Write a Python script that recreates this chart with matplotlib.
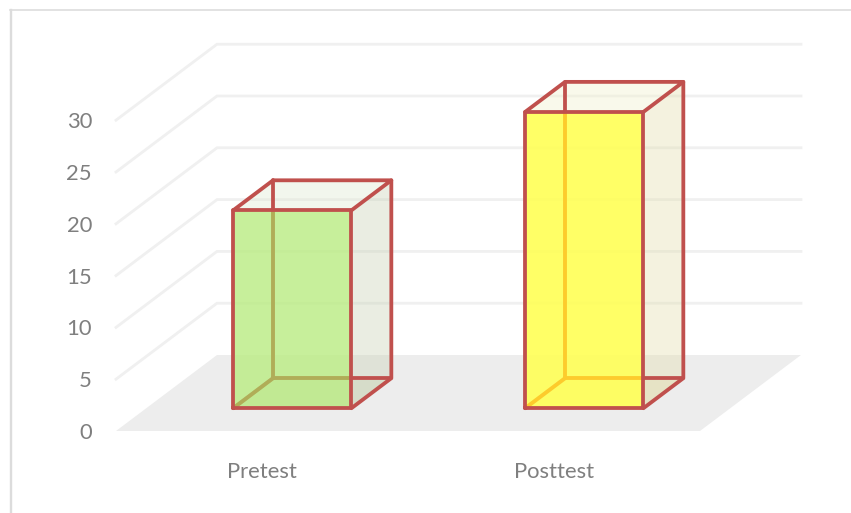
import matplotlib
matplotlib.use("Agg")
import matplotlib.pyplot as plt
from matplotlib.patches import Polygon

# Chart data
categories = ["Pretest", "Posttest"]
scores = [19.1, 28.6]
value_ticks = [0, 5, 10, 15, 20, 25, 30]

# Oblique projection: category index, value and depth (0 = front, 1 = back)
DEPTH_X = 101 / 292
DEPTH_V = 76 / 10.36


def proj(cat, value, depth):
    return cat + DEPTH_X * depth, value + DEPTH_V * depth


W, H = 851, 513
fig = plt.figure(figsize=(W / 100, H / 100), dpi=100)
ax = fig.add_axes([0, 0, 1, 1])
ax.set_xlim((0 - 262) / 292, (W - 262) / 292)
ax.set_ylim((431 - H) / 10.36, 431 / 10.36)
ax.axis("off")

plt.rcParams["font.family"] = ["Lato", "DejaVu Sans"]
TEXT = "#7f7f7f"
GRID = "#f0f0f0"
EDGE = "#c0504d"
PX = 72 / 100

# Outer chart frame
ax.plot([10.5 / W, 10.5 / W], [0, 1 - 10 / H], transform=ax.transAxes, color="#dcdcdc", lw=2.4 * PX)
ax.plot([10 / W, 1], [1 - 10 / H, 1 - 10 / H], transform=ax.transAxes, color="#dcdcdc", lw=1.6 * PX)

# Floor
x_lo, x_hi = -0.5, 1.5
ax.add_patch(Polygon([proj(x_lo, 0, 0), proj(x_lo, 0, 1), proj(x_hi, 0, 1), proj(x_hi, 0, 0)],
                     closed=True, fc="#ededed", ec="none", zorder=1))

# Gridlines on the side and back walls
for v in value_ticks[1:]:
    pts = [proj(x_lo, v, 0), proj(x_lo, v, 1), proj(x_hi, v, 1)]
    ax.plot(*zip(*pts), color=GRID, lw=2.8 * PX, zorder=1.5, solid_joinstyle="miter")

# Value and category labels
for v in value_ticks:
    x, y = proj(x_lo, v, 0)
    ax.annotate(str(v), (x, y), xytext=(-24 * PX, -2 * PX), textcoords="offset points",
                ha="right", va="center", fontsize=15.8, color=TEXT)
for i, name in enumerate(categories):
    ax.annotate(name, (i, 0), xytext=(0, -41 * PX), textcoords="offset points",
                ha="center", va="center", fontsize=15.8, color=TEXT)

# Bar styling: front face, side face, top face, bottom face, hidden-edge tint
styles = [
    dict(front=(186/255, 236/255, 130/255, .80), side=(201/255, 211/255, 181/255, .39),
         top=(224/255, 232/255, 211/255, .39), hidden="#b0ad58"),
    dict(front=(1, 1, 89/255, .92), side=(227/255, 222/255, 175/255, .39),
         top=(242/255, 242/255, 204/255, .39), hidden="#fdcb2c"),
]
half = 0.2025
d0, d1 = 0.30, 0.695

for i, (val, st) in enumerate(zip(scores, styles)):
    l, r = i - half, i + half
    fbl, fbr, ftr, ftl = proj(l, 0, d0), proj(r, 0, d0), proj(r, val, d0), proj(l, val, d0)
    bbl, bbr, btr, btl = proj(l, 0, d1), proj(r, 0, d1), proj(r, val, d1), proj(l, val, d1)

    ax.add_patch(Polygon([fbl, fbr, bbr, bbl], closed=True, fc=st["side"], ec="none", zorder=2))
    ax.add_patch(Polygon([fbr, bbr, btr, ftr], closed=True, fc=st["side"], ec="none", zorder=2))
    ax.add_patch(Polygon([ftl, ftr, btr, btl], closed=True, fc=st["top"], ec="none", zorder=2))

    hidden = [[bbl, btl], [bbl, bbr], [fbl, bbl]]
    for a, b in hidden:
        ax.plot(*zip(a, b), color=EDGE, lw=3.8 * PX, zorder=3, solid_capstyle="round")

    face = Polygon([fbl, fbr, ftr, ftl], closed=True, fc=st["front"], ec="none", zorder=4)
    ax.add_patch(face)

    # Edges seen through the front face take on its tint
    for a, b in hidden:
        seg, = ax.plot(*zip(a, b), color=st["hidden"], lw=3.8 * PX, zorder=5, solid_capstyle="round")
        seg.set_clip_path(face)

    visible = [[fbl, fbr, ftr, ftl, fbl], [ftl, btl, btr, ftr], [btr, bbr, fbr]]
    for pts in visible:
        ax.plot(*zip(*pts), color=EDGE, lw=3.8 * PX, zorder=6,
                solid_joinstyle="round", solid_capstyle="round")

fig.savefig("out.png", dpi=100)
